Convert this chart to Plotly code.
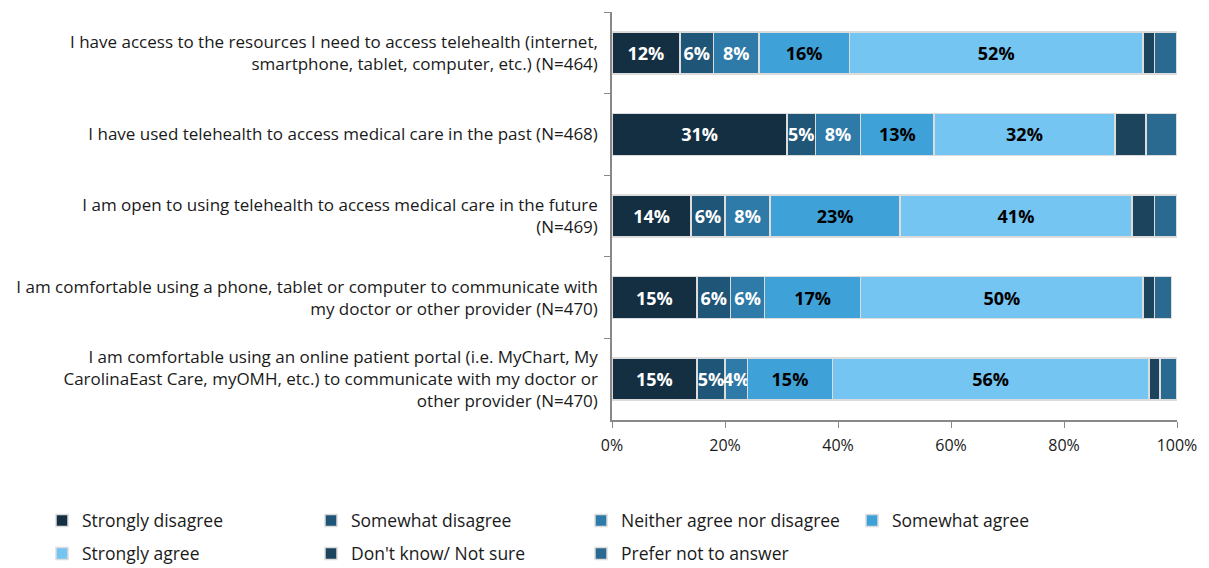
import plotly.graph_objects as go

# Survey statements (top to bottom)
statements = [
    "I have access to the resources I need to access telehealth (internet,<br>smartphone, tablet, computer, etc.) (N=464)",
    "I have used telehealth to access medical care in the past (N=468)",
    "I am open to using telehealth to access medical care in the future<br>(N=469)",
    "I am comfortable using a phone, tablet or computer to communicate with<br>my doctor or other provider (N=470)",
    "I am comfortable using an online patient portal (i.e. MyChart, My<br>CarolinaEast Care, myOMH, etc.) to communicate with my doctor or<br>other provider (N=470)",
]

# Response shares, percent of respondents
strongly_disagree = [12, 31, 14, 15, 15]
somewhat_disagree = [6, 5, 6, 6, 5]
neither = [8, 8, 8, 6, 4]
somewhat_agree = [16, 13, 23, 17, 15]
strongly_agree = [52, 32, 41, 50, 56]
dont_know = [2, 5.5, 4, 2, 2]
prefer_not = [4, 5.5, 4, 3, 3]

series = [
    ("Strongly disagree", strongly_disagree, "#142f42", "white", True),
    ("Somewhat disagree", somewhat_disagree, "#1f5577", "white", True),
    ("Neither agree nor disagree", neither, "#2e7aa8", "white", True),
    ("Somewhat agree", somewhat_agree, "#3ea2d9", "black", True),
    ("Strongly agree", strongly_agree, "#74c5f1", "black", True),
    ("Don't know/ Not sure", dont_know, "#1c445c", "white", False),
    ("Prefer not to answer", prefer_not, "#2a6a90", "white", False),
]

FONT = "'Open Sans', Lato, sans-serif"

# Legend grid: 4 columns, 2 rows (pixel positions of each entry's top-left)
LEGEND_COLS = [42, 311, 581, 852]
LEGEND_ROWS = [502.5, 535.5]
W, H = 1209, 568

fig = go.Figure()
legend_layout = {}
for i, (name, vals, color, tcolor, labelled) in enumerate(series):
    leg_id = "legend" if i == 0 else f"legend{i + 1}"
    fig.add_trace(go.Bar(
        name=name,
        y=statements,
        x=[v / 100 for v in vals],
        orientation="h",
        marker=dict(color=color, line=dict(color="#dcdcdc", width=1.5)),
        text=[f"{v:g}%" for v in vals] if labelled else None,
        textposition="inside" if labelled else "none",
        insidetextanchor="middle",
        textangle=0,
        constraintext="none",
        textfont=dict(family=FONT, size=18, color=tcolor, weight="bold"),
        legend=leg_id,
        showlegend=True,
        hoverinfo="name+x",
    ))
    col, row = i % 4, i // 4
    legend_layout[leg_id] = dict(
        visible=True,
        orientation="h",
        xref="container",
        yref="container",
        xanchor="left",
        yanchor="top",
        x=LEGEND_COLS[col] / W,
        y=1 - LEGEND_ROWS[row] / H,
        font=dict(family=FONT, size=17.5, color="#1a1a1a"),
        bgcolor="rgba(0,0,0,0)",
    )

fig.update_layout(
    width=W,
    height=H,
    showlegend=True,
    margin=dict(l=612, r=32, t=12, b=148),
    barmode="stack",
    bargap=0.485,
    plot_bgcolor="white",
    paper_bgcolor="white",
    font=dict(family=FONT, size=16, color="#1a1a1a"),
    xaxis=dict(
        range=[0, 1],
        tickformat=".0%",
        dtick=0.2,
        ticks="outside",
        ticklen=6,
        tickcolor="#888888",
        showline=True,
        linecolor="#888888",
        linewidth=1.5,
        showgrid=False,
        zeroline=False,
        ticklabelstandoff=4,
        tickfont=dict(family=FONT, size=16, color="#1a1a1a"),
    ),
    yaxis=dict(
        autorange="reversed",
        tickson="boundaries",
        ticks="outside",
        ticklen=6,
        tickcolor="#888888",
        showline=True,
        linecolor="#888888",
        linewidth=1.5,
        showgrid=False,
        ticklabelstandoff=9,
        tickfont=dict(family=FONT, size=17, color="#1a1a1a"),
    ),
    **legend_layout,
)

fig.write_html("out.html")
